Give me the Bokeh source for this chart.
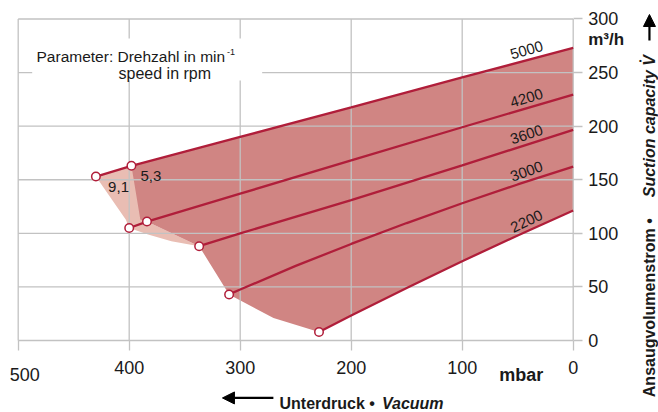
import math
import numpy as np
from bokeh.plotting import figure
from bokeh.models import Range1d, FixedTicker, Label, Arrow, NormalHead, BoxAnnotation, ColumnDataSource
from bokeh.core.properties import value
from bokeh.embed import file_html
from bokeh.resources import INLINE

# ---- data (vacuum in mbar, suction capacity in m3/h) ----
speeds = ["5000", "4200", "3600", "3000", "2200"]
vac_5000 = [430, 398, 300, 200, 100, 0]
flow_5000 = [153, 163, 190, 217.5, 245.5, 273]
vac_4200 = [400, 384, 300, 200, 100, 0]
flow_4200 = [105, 111, 137, 168, 199, 229.5]
vac_3600 = [337, 300, 200, 100, 0]
flow_3600 = [88, 100, 131, 163.5, 196.5]
vac_3000 = [310, 300, 250, 200, 150, 100, 50, 0]
flow_3000 = [43, 47.6, 69.6, 90.1, 109.6, 128.1, 145.6, 162.3]
vac_2200 = [229, 200, 150, 100, 50, 0]
flow_2200 = [8, 23.3, 49, 74, 98, 121.3]

# left boundary of the dark (continuous) operating range, from 2200 start up to the 5000 curve
edge_vac = [229, 270, 310, 337, 384, 390, 398]
edge_flow = [8, 21, 43, 88, 111, 113, 163]
# light (intermittent) area
light_vac = [430, 398, 384, 337, 362, 383, 400, 403]
light_flow = [153, 163, 111, 88, 92.5, 99, 105, 112.6]

x_ticks = [500, 400, 300, 200, 100, 0]
y_ticks = [0, 50, 100, 150, 200, 250, 300]
label_angles = [16, 17, 18, 19.5, 25]

CRIMSON = "#b01e3a"
DARK = "#d08583"
LIGHT = "#e9bdb3"
GRID = "#c2c2c2"
TXT = "#1a1a1a"
FONT = "Liberation Sans"

# the frame fills the whole canvas; axes are pinned at vacuum 0 / flow 0
p = figure(width=658, height=412, x_range=Range1d(515.95, -76.85), y_range=Range1d(-67.18, 317.26),
           output_backend="svg", toolbar_location=None,
           x_axis_location="below", y_axis_location="right",
           min_border_left=0, min_border_top=0, min_border_right=0, min_border_bottom=0)
p.outline_line_color = None
p.background_fill_color = "white"
p.border_fill_color = "white"
p.grid.visible = False

for ax, t in ((p.xaxis, x_ticks), (p.yaxis, y_ticks)):
    ax.ticker = FixedTicker(ticks=t)
    ax.fixed_location = 0
    ax.axis_line_color = None
    ax.major_tick_line_color = GRID
    ax.major_tick_line_width = 1.3
    ax.major_tick_in = 0
    ax.minor_tick_line_color = None
    ax.major_label_text_font = FONT
    ax.major_label_text_font_size = "18px"
    ax.major_label_text_color = TXT
p.xaxis.major_tick_out = 10
p.xaxis.major_label_standoff = 7
p.xaxis.major_label_overrides = {500: " "}
p.yaxis.major_tick_out = 9
p.yaxis.major_label_standoff = 6

# areas
p.patch(light_vac, light_flow, fill_color=LIGHT, line_color=None, level="image")
dark_x = vac_5000[1:] + vac_2200[::-1] + edge_vac
dark_y = flow_5000[1:] + flow_2200[::-1] + edge_flow
p.patch(dark_x, dark_y, fill_color=DARK, line_color=None, level="image")

# grid lines limited to the chart area
nx, ny = len(x_ticks), len(y_ticks)
p.segment(x0=x_ticks, y0=[min(y_ticks)] * nx, x1=x_ticks, y1=[max(y_ticks)] * nx,
          line_color=GRID, line_width=1.3, level="underlay")
p.segment(x0=[max(x_ticks)] * ny, y0=y_ticks, x1=[min(x_ticks)] * ny, y1=y_ticks,
          line_color=GRID, line_width=1.3, level="underlay")

series = [(vac_5000, flow_5000), (vac_4200, flow_4200), (vac_3600, flow_3600),
          (vac_3000, flow_3000), (vac_2200, flow_2200)]
for xs, ys in series:
    p.line(xs, ys, line_color=CRIMSON, line_width=2.3)

mk_x = [vac_5000[0], vac_5000[1], vac_4200[0], vac_4200[1], vac_3600[0], vac_3000[0], vac_2200[0]]
mk_y = [flow_5000[0], flow_5000[1], flow_4200[0], flow_4200[1], flow_3600[0], flow_3000[0], flow_2200[0]]
p.scatter(mk_x, mk_y, marker="circle", size=8.5, fill_color="white", line_color=CRIMSON, line_width=1.5)

# curve labels placed just above each curve near the right edge
lab_vac = 42
lab_x = [lab_vac] * len(series)
lab_y = [float(np.interp(lab_vac, xs[::-1], ys[::-1])) + 9.5 for xs, ys in series]
src = ColumnDataSource(dict(x=lab_x, y=lab_y, t=speeds, a=label_angles))
p.text(x="x", y="y", text="t", angle="a", angle_units="deg", source=src,
       text_align="center", text_baseline="middle", text_font=value(FONT),
       text_font_size=value("15px"), text_color=TXT)

def lab(text, x, y, size="16px", style="normal", align="left", baseline="alphabetic", angle=0, x_offset=0):
    p.add_layout(Label(x=x, y=y, text=text, text_font=FONT, text_font_size=size,
                       text_font_style=style, text_align=align, text_baseline=baseline,
                       angle=angle, x_offset=x_offset, text_color=TXT))

# parameter box
p.add_layout(BoxAnnotation(left=487.4, right=280.2, bottom=242.6, top=281.8,
                           fill_color="white", fill_alpha=1.0, line_color=None))
lab("Parameter: Drehzahl in min", 483.5, 265.0, size="15.5px")
lab("-1", 312.0, 268.8, size="9px")
lab("speed in rpm", 409.6, 249.6, size="16px")

# point annotations
lab("9,1", 409.6, 143.0, size="15px", align="center", baseline="middle")
lab("5,3", 380.4, 153.2, size="15px", align="center", baseline="middle")

# axis extras
lab("500", 500, -32, size="18px", align="center", x_offset=6.6)
lab("mbar", 46.8, -32, size="18px", style="bold", align="center")
lab("m³/h", -13.5, 280.9, size="17px", style="bold")

# bottom title
lab("Unterdruck • ", 264.6, -58.8, size="16px", style="bold")
lab("Vacuum", 172.3, -58.8, size="16px", style="bold italic")
p.add_layout(Arrow(x_start=270.1, y_start=-53.6, x_end=316.0, y_end=-53.6, line_width=2.2,
                   line_color="black", end=NormalHead(size=12, fill_color="black", line_color="black")))

# right title (reads bottom to top)
lab("Ansaugvolumenstrom • ", -68.7, -52.9, size="16px", style="bold", baseline="middle", angle=math.pi / 2)
lab("Suction capacity V", -68.7, 133.7, size="16px", style="bold italic", baseline="middle", angle=math.pi / 2)
lab("•", -60.5, 261.3, size="8px", style="bold", align="center", baseline="middle")
p.add_layout(Arrow(x_start=-68.7, y_start=279.9, x_end=-68.7, y_end=304.2, line_width=2.2,
                   line_color="black", end=NormalHead(size=12, fill_color="black", line_color="black")))

open("out.html", "w").write(file_html(p, INLINE))
